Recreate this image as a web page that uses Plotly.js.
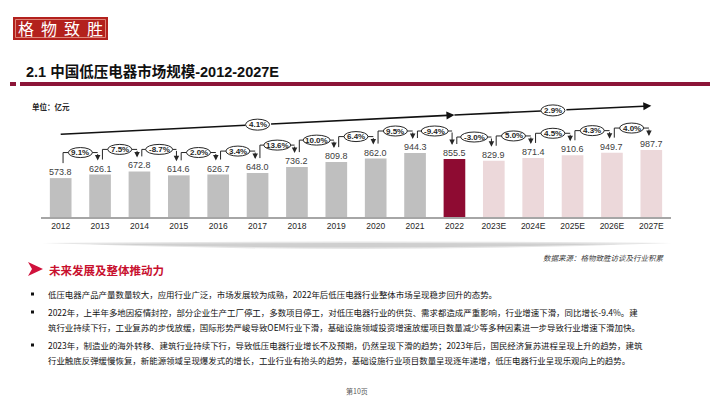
<!DOCTYPE html>
<html>
<head>
<meta charset="utf-8">
<script src="https://cdn.plot.ly/plotly-3.0.1.min.js"></script>
<style>
html,body{margin:0;padding:0;background:#fff;}
#chart{width:710px;height:399px;}
</style>
</head>
<body>
<div id="chart"></div>
<script>
// ---- data ----
const years = ['2012','2013','2014','2015','2016','2017','2018','2019','2020','2021','2022','2023E','2024E','2025E','2026E','2027E'];
const values = [573.8, 626.1, 672.8, 614.6, 626.7, 648.0, 736.2, 809.8, 862.0, 944.3, 855.5, 829.9, 871.4, 910.6, 949.7, 987.7];
const growth = ['9.1%','7.5%','-8.7%','2.0%','3.4%','13.6%','10.0%','6.4%','9.5%','-9.4%','-3.0%','5.0%','4.5%','4.3%','4.0%'];
const barKind = ['hist','hist','hist','hist','hist','hist','hist','hist','hist','hist','current','forecast','forecast','forecast','forecast','forecast'];
const cagrLabels = ['4.1%','2.9%'];
const cagrSpans = [[0,10],[10,15]];

// ---- styling ----
const kindColor = {hist:'#bfbfbf', current:'#8e0b32', forecast:'#ecd8da'};
const FONT = 'Liberation Sans, Arial, Noto Sans CJK SC, sans-serif';
const CJK = 'Noto Sans CJK SC, Liberation Sans, sans-serif';

// plot-area geometry (px)
const L = 41, T = 95, W = 630, H = 122, YMAX = 1800;
const u = H / YMAX;                // px per data unit (y)
const ux = W / years.length;       // px per category (x)
const px = x => (x - L) / W;       // page px -> paper x
const py = y => (T + H - y) / H;   // page px -> paper y
const d = p => p / u;              // px -> data units

const idx = years.map((_, i) => i);

const shapes = [];
const annotations = [];
const A = (o) => Object.assign({showarrow:false, xanchor:'center', yanchor:'middle'}, o);

// value labels
values.forEach((v, i) => {
  annotations.push(A({x: i, y: v, xref:'x', yref:'y', text: v.toFixed(1),
    yanchor:'bottom', yshift: -1, font:{family:FONT, size:9, color:'#404040'}}));
});

// growth brackets
growth.forEach((g, i) => {
  const v0 = values[i], v1 = values[i+1];
  const xL = i + 0.06, xR = i + 1 - 0.06;
  const yL = v0 + d(15), yTop = Math.max(v0, v1) + d(22), yTip = v1 + d(14);
  shapes.push({type:'path', xref:'x', yref:'y',
    path:`M ${xL},${yL} L ${xL},${yTop} L ${xR},${yTop}`,
    line:{color:'#262626', width:1}});
  annotations.push({x:xR, y:yTip, ax:xR, ay:yTop, xref:'x', yref:'y', axref:'x', ayref:'y',
    text:'', showarrow:true, arrowhead:2, arrowsize:1.1, arrowwidth:1, arrowcolor:'#262626', standoff:0});
  const w = g.length >= 5 ? 13.5 : 12;
  shapes.push({type:'circle', xref:'x', yref:'y', xsizemode:'pixel', ysizemode:'pixel',
    xanchor: i + 0.5, yanchor: yTop, x0:-w, x1:w, y0:-5, y1:5,
    fillcolor:'#ffffff', line:{color:'#262626', width:1}});
  annotations.push(A({x: i + 0.5, y: yTop, xref:'x', yref:'y', text:'<b>'+g+'</b>',
    font:{family:FONT, size:8, color:'#262626'}}));
});

// CAGR arrows (split around the label ellipse)
const cagrY = [[1220, 1505], [1505, 1640]];
const EW = 12; // ellipse half-width px
cagrSpans.forEach((s, k) => {
  const [x0, x1] = s, [y0, y1] = cagrY[k];
  const xm = (x0 + x1) / 2, ym = (y0 + y1) / 2;
  const slope = (y1 - y0) / (x1 - x0);
  const gx = EW / ux;
  const xa = xm - gx, xb = xm + gx;
  shapes.push({type:'line', xref:'x', yref:'y', x0:x0, y0:y0, x1:xa, y1:ym - gx*slope,
    line:{color:'#111', width:1.6}});
  annotations.push({x:x1, y:y1, ax:xb, ay:ym + gx*slope, xref:'x', yref:'y', axref:'x', ayref:'y',
    text:'', showarrow:true, arrowhead:2, arrowsize:1, arrowwidth:1.6, arrowcolor:'#111', standoff:0});
  shapes.push({type:'circle', xref:'x', yref:'y', xsizemode:'pixel', ysizemode:'pixel',
    xanchor: xm, yanchor: ym, x0:-EW, x1:EW, y0:-5.5, y1:5.5,
    fillcolor:'#ffffff', line:{color:'#262626', width:1}});
  annotations.push(A({x: xm, y: ym, xref:'x', yref:'y', text:'<b>'+cagrLabels[k]+'</b>',
    font:{family:FONT, size:8, color:'#262626'}}));
});

// ---- page decorations (paper coords) ----
const P = (o) => Object.assign({xref:'paper', yref:'paper'}, o);
const PA = (o) => A(P(o));
// logo stamp
shapes.push(P({type:'rect', x0:px(13), x1:px(108), y0:py(17), y1:py(40), fillcolor:'#b3211d', line:{width:0}}));
shapes.push(P({type:'rect', x0:px(15.5), x1:px(105.5), y0:py(19.5), y1:py(37.5), line:{color:'#e8a090', width:0.8}}));
['格','物','致','胜'].forEach((c, k) => {
  annotations.push(PA({x:px(26 + k*23), y:py(28.5), text:c,
    font:{family:CJK, size:16, color:'#ffffff'}}));
});
// title
annotations.push(PA({x:px(24), y:py(72), xanchor:'left', text:'<b>2.1 中国低压电器市场规模-2012-2027E</b>',
  font:{family:FONT, size:14.5, color:'#111111'}}));
shapes.push(P({type:'rect', x0:px(10), x1:px(16), y0:py(82), y1:py(86), fillcolor:'#8c1538', line:{width:0}}));
shapes.push(P({type:'rect', x0:px(20), x1:px(710), y0:py(82), y1:py(86), fillcolor:'#8c1538', line:{width:0}}));
// unit
annotations.push(PA({x:px(30), y:py(106), xanchor:'left', text:'<b>单位：亿元</b>',
  font:{family:CJK, size:7.5, color:'#262626'}}));
// shadow separator
shapes.push(P({type:'path', path:`M ${px(42)},${py(243)} Q ${px(356)},${py(240)} ${px(672)},${py(243)} Q ${px(356)},${py(255)} ${px(42)},${py(243)} Z`,
  fillcolor:'#e6e6e6', line:{width:0}}));
shapes.push(P({type:'path', path:`M ${px(90)},${py(244)} Q ${px(356)},${py(242)} ${px(620)},${py(244)} Q ${px(356)},${py(251)} ${px(90)},${py(244)} Z`,
  fillcolor:'#cfcfcf', line:{width:0}}));
// source
annotations.push(PA({x:px(666), y:py(257), xanchor:'right', text:'数据来源：格物致胜访谈及行业积累',
  font:{family:CJK, size:7.5, color:'#404040', style:'italic'}}));
// section heading
shapes.push(P({type:'path', path:`M ${px(28)},${py(262)} L ${px(43)},${py(269)} L ${px(28)},${py(276)} L ${px(32)},${py(269)} Z`,
  fillcolor:'#d0123c', line:{width:0}}));
annotations.push(PA({x:px(47), y:py(269.5), xanchor:'left', text:'<b>未来发展及整体推动力</b>',
  font:{family:CJK, size:11.5, color:'#c8102e'}}));
// bullets
const bulletY = [294, 312, 345];
bulletY.forEach(y => {
  shapes.push(P({type:'rect', x0:px(31), x1:px(34), y0:py(y-1.5), y1:py(y+1.5), fillcolor:'#111', line:{width:0}}));
});
const lines = [
  [294, '低压电器产品产量数量较大，应用行业广泛，市场发展较为成熟，2022年后低压电器行业整体市场呈现稳步回升的态势。'],
  [312, '2022年，上半年多地因疫情封控，部分企业生产工厂停工，多数项目停工，对低压电器行业的供货、需求都造成严重影响，行业增速下滑，同比增长-9.4%。建'],
  [327, '筑行业持续下行，工业复苏的步伐放缓，国际形势严峻导致OEM行业下滑，基础设施领域投资增速放缓项目数量减少等多种因素进一步导致行业增速下滑加快。'],
  [345, '2023年，制造业的海外转移、建筑行业持续下行，导致低压电器行业增长不及预期，仍然呈现下滑的趋势；2023年后，国民经济复苏进程呈现上升的趋势，建筑'],
  [360, '行业触底反弹缓慢恢复，新能源领域呈现爆发式的增长，工业行业有抬头的趋势，基础设施行业项目数量呈现逐年递增，低压电器行业呈现乐观向上的趋势。']
];
lines.forEach(([y, t]) => {
  annotations.push(PA({x:px(46), y:py(y), xanchor:'left', text:t,
    font:{family:CJK, size:8.45, color:'#111111'}}));
});
// page number
annotations.push(PA({x:px(357), y:py(391), text:'第10页',
  font:{family:CJK, size:7, color:'#595959'}}));

const trace = {
  type:'bar', x: idx, y: values, width: 0.55,
  marker:{color: barKind.map(k => kindColor[k])},
  hoverinfo:'skip'
};

const layout = {
  width:710, height:399,
  margin:{l:L, r:710-L-W, t:T, b:399-T-H, pad:0},
  paper_bgcolor:'#ffffff', plot_bgcolor:'#ffffff',
  showlegend:false,
  xaxis:{range:[-0.5, 15.5], tickvals: idx, ticktext: years, showgrid:false, zeroline:false,
    showline:true, linecolor:'#a6a6a6', linewidth:1.5, ticks:'', fixedrange:true,
    tickfont:{family:FONT, size:8.5, color:'#262626'}},
  yaxis:{range:[0, YMAX], visible:false, fixedrange:true},
  shapes, annotations
};

Plotly.newPlot('chart', [trace], layout, {displayModeBar:false, staticPlot:true});
</script>
</body>
</html>
